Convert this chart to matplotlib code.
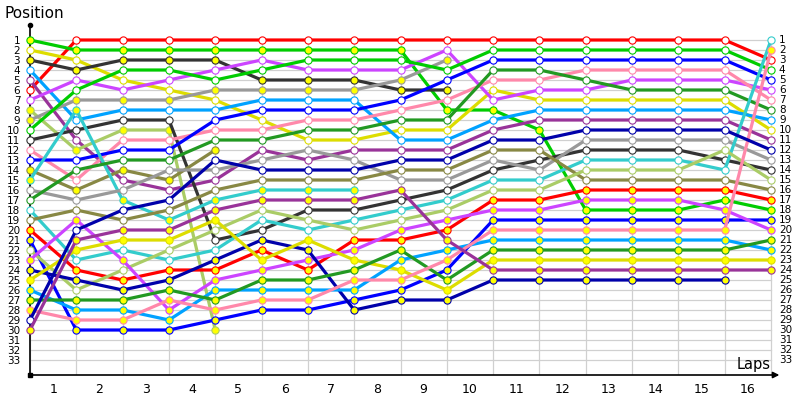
import matplotlib
matplotlib.use("Agg")
from matplotlib import pyplot as plt

laps = list(range(0, 17))
positions = list(range(1, 34))

# one colour per team, two drivers each
RED = "#ff0000"
GREEN = "#00cc00"
DGRAY = "#333333"
LBLUE = "#00a2ff"
PURPLE = "#993399"
VIOLET = "#cc44ff"
LOLIVE = "#aacc66"
YELLOW = "#dddd00"
GRAY = "#999999"
BLUE = "#0000ff"
DBLUE = "#0000aa"
PINK = "#ff88aa"
DGREEN = "#229922"
OLIVE = "#888844"
CYAN = "#33cccc"

# position after each lap (0 = grid); shorter list = out of the race
red6 = [6, 1, 1, 1, 1, 1, 1, 1, 1, 1, 1, 1, 1, 1, 1, 1, 3]
green1 = [1, 2, 2, 2, 2, 2, 2, 2, 2, 8, 8, 10, 18, 18, 18, 17, 18]
yellow2 = [2, 3, 5, 6, 7, 9, 11, 11, 10, 10, 6, 7, 7, 7, 7, 7, 10]
dgray3 = [3, 4, 3, 3, 3, 5, 5, 5, 6, 6]
lblue4 = [4, 9, 8, 8, 8, 7, 7, 7, 11, 11, 9, 8, 8, 8, 8, 8, 9]
purple5 = [5, 11, 15, 16, 15, 12, 13, 12, 12, 12, 10, 9, 9, 9, 9, 9, 11]
violet7 = [7, 5, 6, 5, 4, 3, 4, 4, 4, 2, 7, 6, 6, 5, 5, 5, 6]
lolive8 = [8, 12, 10, 10, 30]
gray9 = [9, 7, 7, 7, 6, 6, 6, 6, 5, 3]
green10 = [10, 6, 4, 4, 5, 4, 3, 3, 3, 4, 2, 2, 2, 2, 2, 2, 4]
dgray11 = [11, 10, 9, 9, 21, 20, 18, 18, 17, 16, 14, 13, 12, 12, 12, 13, 14]
pink12 = [12, 15, 11, 11, 10, 10, 9, 9, 8, 7, 5, 5, 4, 4, 4, 4, 7]
blue13 = [13, 13, 12, 12, 9, 8, 8, 8, 7, 5, 3, 3, 3, 3, 3, 3, 5]
olive14 = [14, 16, 14, 15, 12]
cyan15 = [15, 8, 17, 19, 17, 16, 16, 16]
gray16 = [16, 17, 16, 14, 14, 13, 12, 13, 15, 15, 13, 14, 11, 11, 11, 11, 13]
dgreen17 = [17, 14, 13, 13, 11, 11, 10, 10, 9, 9, 4, 4, 5, 6, 6, 6, 8]
cyan18 = [18, 23, 22, 23, 22, 19, 20, 19, 18, 17, 15, 15, 13, 13, 13, 14, 1]
olive19 = [19, 18, 19, 18, 16, 15, 15, 15, 14, 14, 12, 12, 15, 15, 15, 15, 16]
red20 = [20, 24, 25, 24, 24, 22, 24, 21, 21, 20, 17, 17, 16, 16, 16, 16, 17]
blue21 = [21, 30, 30, 30, 29, 28, 28, 27, 26, 24, 19, 19, 19, 19, 19, 19, 19]
lolive22 = [22, 26, 24, 22, 20, 18, 19, 20, 19, 18, 16, 16, 14, 14, 14, 12, 15]
violet23 = [23, 19, 23, 28, 25, 24, 23, 22, 20, 19, 18, 18, 17, 17, 17, 18, 20]
dblue24 = [24, 25, 26, 25, 23, 21, 22, 28, 27, 27, 25, 25, 25, 25, 25, 25]
yellow25 = [25, 22, 21, 21, 19, 23, 21, 23, 24, 26, 23, 23, 23, 23, 23, 23, 23]
lblue26 = [26, 28, 28, 29, 26, 26, 26, 26, 23, 22, 21, 21, 21, 21, 21, 21, 22]
dgreen27 = [27, 27, 27, 26, 27, 25, 25, 24, 22, 25, 22, 22, 22, 22, 22, 22, 21]
pink28 = [28, 29, 29, 27, 28, 27, 27, 25, 25, 23, 20, 20, 20, 20, 20, 20, 2]
dblue29 = [29, 20, 18, 17, 13, 14, 14, 14, 13, 13, 11, 11, 10, 10, 10, 10, 12]
purple30 = [30, 21, 20, 20, 18, 17, 17, 17, 16, 21, 24, 24, 24, 24, 24, 24, 24]

drivers = [red6, green1, yellow2, dgray3, lblue4, purple5, violet7, lolive8,
           gray9, green10, dgray11, pink12, blue13, olive14, cyan15, gray16,
           dgreen17, cyan18, olive19, red20, blue21, lolive22, violet23,
           dblue24, yellow25, lblue26, dgreen27, pink28, dblue29, purple30]
colors = [RED, GREEN, YELLOW, DGRAY, LBLUE, PURPLE, VIOLET, LOLIVE,
          GRAY, GREEN, DGRAY, PINK, BLUE, OLIVE, CYAN, GRAY,
          DGREEN, CYAN, OLIVE, RED, BLUE, LOLIVE, VIOLET,
          DBLUE, YELLOW, LBLUE, DGREEN, PINK, DBLUE, PURPLE]
fills = ["white", "#ffff00", "white", "#ffff00", "white", "white", "white", "#ffff00",
         "#ffff00", "white", "white", "white", "white", "#ffff00", "#ffff00", "white",
         "white", "white", "white", "#ffff00", "#ffff00", "white", "#ffff00",
         "#ffff00", "#ffff00", "#ffff00", "#ffff00", "#ffff00", "white", "#ffff00"]

fig = plt.figure(figsize=(8, 4), dpi=100)
ax = fig.add_axes([30 / 800, 25 / 400, 760 / 800, 350 / 400])
ax.set_xlim(0, 16.41)
ax.set_ylim(34.5, -0.5)

# grid
for p in positions:
    ax.plot([0, 16], [p, p], color="#d0d0d0", lw=0.9, zorder=1)
for l in laps:
    ax.plot([l, l], [1, 34.5], color="#d0d0d0", lw=0.9, zorder=1)

for pos, c, f in zip(drivers, colors, fills):
    ax.plot(laps[:len(pos)], pos, color=c, lw=2.3, marker="o", ms=5.2,
            mfc=f, mec=c, mew=0.8, zorder=3, clip_on=False)

for s in ["top", "right", "bottom"]:
    ax.spines[s].set_visible(False)
ax.spines["left"].set_linewidth(1.2)
ax.annotate("", xy=(16.18, 34.5), xytext=(0, 34.5),
            arrowprops=dict(arrowstyle="-|>", color="black", lw=1.2,
                            mutation_scale=9, shrinkA=0, shrinkB=0),
            annotation_clip=False, zorder=5)
ax.plot([0], [-0.5], "ko", ms=3, clip_on=False, zorder=5)
ax.plot([0], [34.5], "ks", ms=2.5, clip_on=False, zorder=5)

ax.set_yticks(positions)
ax.set_yticklabels([str(p) for p in positions], fontsize=7.5)
ax.tick_params(axis="y", length=0, pad=7)
ax.set_xticks([l - 0.5 for l in laps[1:]])
ax.set_xticklabels([str(l) for l in laps[1:]], fontsize=9)
ax.tick_params(axis="x", length=0, pad=6)

for p in positions:
    ax.text(16.17, p, str(p), fontsize=7.5, va="center", ha="left")

fig.text(5 / 800, 1 - 14 / 400, "Position", fontsize=11, va="center", ha="left")
ax.text(16.0, 33.5, "Laps", fontsize=10.5, va="center", ha="right")

fig.savefig("out.png", dpi=100)
